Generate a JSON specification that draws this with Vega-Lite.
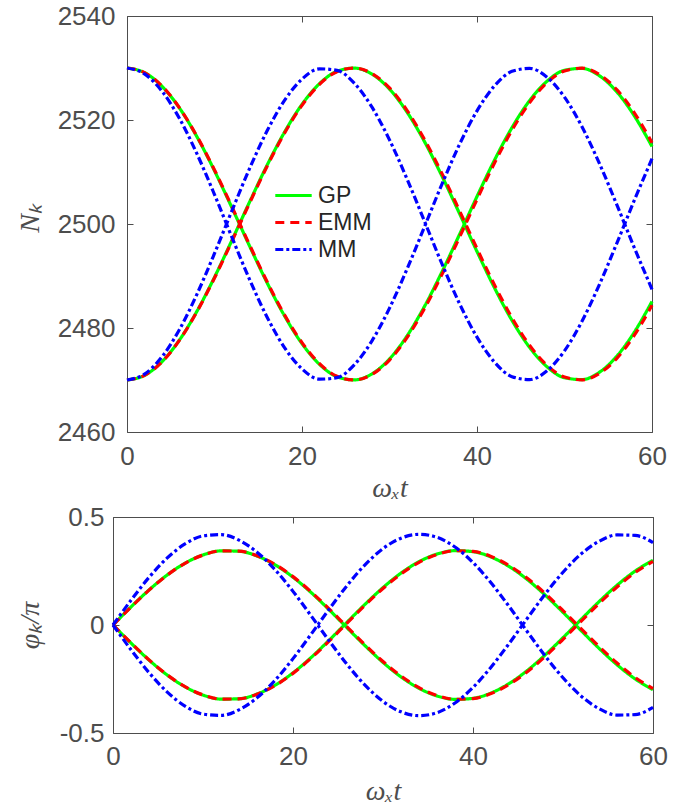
{
  "$schema": "https://vega.github.io/schema/vega-lite/v6.json",
  "background": "white",
  "padding": {"left": 16, "top": 3, "right": 5, "bottom": 0},
  "spacing": 2,
  "data": {"values": [
    {"t":0,"m":"GP","N1":2530,"N2":2470,"p1":0,"p2":0},
    {"t":2,"m":"GP","N1":2529.11,"N2":2470.89,"p1":0.0835,"p2":-0.0835},
    {"t":4,"m":"GP","N1":2526.48,"N2":2473.52,"p1":0.1621,"p2":-0.1621},
    {"t":6,"m":"GP","N1":2522.29,"N2":2477.71,"p1":0.2309,"p2":-0.2309},
    {"t":8,"m":"GP","N1":2516.76,"N2":2483.24,"p1":0.2861,"p2":-0.2861},
    {"t":10,"m":"GP","N1":2510.24,"N2":2489.76,"p1":0.3243,"p2":-0.3243},
    {"t":12,"m":"GP","N1":2503.11,"N2":2496.89,"p1":0.3431,"p2":-0.3431},
    {"t":14,"m":"GP","N1":2495.80,"N2":2504.20,"p1":0.3416,"p2":-0.3416},
    {"t":16,"m":"GP","N1":2488.73,"N2":2511.27,"p1":0.3197,"p2":-0.3197},
    {"t":18,"m":"GP","N1":2482.34,"N2":2517.66,"p1":0.2789,"p2":-0.2789},
    {"t":20,"m":"GP","N1":2476.99,"N2":2523.01,"p1":0.2214,"p2":-0.2214},
    {"t":22,"m":"GP","N1":2473.01,"N2":2526.99,"p1":0.1508,"p2":-0.1508},
    {"t":24,"m":"GP","N1":2470.64,"N2":2529.36,"p1":0.0712,"p2":-0.0712},
    {"t":26,"m":"GP","N1":2470.02,"N2":2529.98,"p1":-0.0127,"p2":0.0127},
    {"t":28,"m":"GP","N1":2471.18,"N2":2528.82,"p1":-0.0957,"p2":0.0957},
    {"t":30,"m":"GP","N1":2474.05,"N2":2525.95,"p1":-0.1731,"p2":0.1731},
    {"t":32,"m":"GP","N1":2478.47,"N2":2521.53,"p1":-0.2402,"p2":0.2402},
    {"t":34,"m":"GP","N1":2484.16,"N2":2515.84,"p1":-0.2930,"p2":0.2930},
    {"t":36,"m":"GP","N1":2490.80,"N2":2509.20,"p1":-0.3284,"p2":0.3284},
    {"t":38,"m":"GP","N1":2497.98,"N2":2502.02,"p1":-0.3442,"p2":0.3442},
    {"t":40,"m":"GP","N1":2505.29,"N2":2494.71,"p1":-0.3396,"p2":0.3396},
    {"t":42,"m":"GP","N1":2512.28,"N2":2487.72,"p1":-0.3148,"p2":0.3148},
    {"t":44,"m":"GP","N1":2518.54,"N2":2481.46,"p1":-0.2712,"p2":0.2712},
    {"t":46,"m":"GP","N1":2523.70,"N2":2476.30,"p1":-0.2116,"p2":0.2116},
    {"t":48,"m":"GP","N1":2527.45,"N2":2472.55,"p1":-0.1393,"p2":0.1393},
    {"t":50,"m":"GP","N1":2529.56,"N2":2470.44,"p1":-0.0588,"p2":0.0588},
    {"t":52,"m":"GP","N1":2529.92,"N2":2470.08,"p1":0.0253,"p2":-0.0253},
    {"t":54,"m":"GP","N1":2528.50,"N2":2471.50,"p1":0.1078,"p2":-0.1078},
    {"t":56,"m":"GP","N1":2525.38,"N2":2474.62,"p1":0.1839,"p2":-0.1839},
    {"t":58,"m":"GP","N1":2520.75,"N2":2479.25,"p1":0.2491,"p2":-0.2491},
    {"t":60,"m":"GP","N1":2514.90,"N2":2485.10,"p1":0.2995,"p2":-0.2995},
    {"t":0,"m":"EMM","N1":2530,"N2":2470,"p1":0,"p2":0},
    {"t":2,"m":"EMM","N1":2529.12,"N2":2470.88,"p1":0.0832,"p2":-0.0832},
    {"t":4,"m":"EMM","N1":2526.51,"N2":2473.49,"p1":0.1615,"p2":-0.1615},
    {"t":6,"m":"EMM","N1":2522.34,"N2":2477.66,"p1":0.2302,"p2":-0.2302},
    {"t":8,"m":"EMM","N1":2516.85,"N2":2483.15,"p1":0.2854,"p2":-0.2854},
    {"t":10,"m":"EMM","N1":2510.38,"N2":2489.62,"p1":0.3237,"p2":-0.3237},
    {"t":12,"m":"EMM","N1":2503.28,"N2":2496.72,"p1":0.3429,"p2":-0.3429},
    {"t":14,"m":"EMM","N1":2496.00,"N2":2504.00,"p1":0.3419,"p2":-0.3419},
    {"t":16,"m":"EMM","N1":2488.94,"N2":2511.06,"p1":0.3207,"p2":-0.3207},
    {"t":18,"m":"EMM","N1":2482.54,"N2":2517.46,"p1":0.2806,"p2":-0.2806},
    {"t":20,"m":"EMM","N1":2477.18,"N2":2522.82,"p1":0.2239,"p2":-0.2239},
    {"t":22,"m":"EMM","N1":2473.15,"N2":2526.85,"p1":0.1540,"p2":-0.1540},
    {"t":24,"m":"EMM","N1":2470.71,"N2":2529.29,"p1":0.0750,"p2":-0.0750},
    {"t":26,"m":"EMM","N1":2470.01,"N2":2529.99,"p1":-0.0084,"p2":0.0084},
    {"t":28,"m":"EMM","N1":2471.07,"N2":2528.93,"p1":-0.0914,"p2":0.0914},
    {"t":30,"m":"EMM","N1":2473.84,"N2":2526.16,"p1":-0.1689,"p2":0.1689},
    {"t":32,"m":"EMM","N1":2478.15,"N2":2521.85,"p1":-0.2364,"p2":0.2364},
    {"t":34,"m":"EMM","N1":2483.75,"N2":2516.25,"p1":-0.2901,"p2":0.2901},
    {"t":36,"m":"EMM","N1":2490.31,"N2":2509.69,"p1":-0.3266,"p2":0.3266},
    {"t":38,"m":"EMM","N1":2497.44,"N2":2502.56,"p1":-0.3438,"p2":0.3438},
    {"t":40,"m":"EMM","N1":2504.73,"N2":2495.27,"p1":-0.3407,"p2":0.3407},
    {"t":42,"m":"EMM","N1":2511.74,"N2":2488.26,"p1":-0.3176,"p2":0.3176},
    {"t":44,"m":"EMM","N1":2518.05,"N2":2481.95,"p1":-0.2757,"p2":0.2757},
    {"t":46,"m":"EMM","N1":2523.30,"N2":2476.70,"p1":-0.2175,"p2":0.2175},
    {"t":48,"m":"EMM","N1":2527.17,"N2":2472.83,"p1":-0.1465,"p2":0.1465},
    {"t":50,"m":"EMM","N1":2529.43,"N2":2470.57,"p1":-0.0668,"p2":0.0668},
    {"t":52,"m":"EMM","N1":2529.96,"N2":2470.04,"p1":0.0168,"p2":-0.0168},
    {"t":54,"m":"EMM","N1":2528.73,"N2":2471.27,"p1":0.0994,"p2":-0.0994},
    {"t":56,"m":"EMM","N1":2525.80,"N2":2474.20,"p1":0.1762,"p2":-0.1762},
    {"t":58,"m":"EMM","N1":2521.34,"N2":2478.66,"p1":0.2426,"p2":-0.2426},
    {"t":60,"m":"EMM","N1":2515.63,"N2":2484.37,"p1":0.2946,"p2":-0.2946},
    {"t":0,"m":"MM","N1":2530,"N2":2470,"p1":0,"p2":0},
    {"t":2,"m":"MM","N1":2528.86,"N2":2471.14,"p1":0.1145,"p2":-0.1145},
    {"t":4,"m":"MM","N1":2525.54,"N2":2474.46,"p1":0.2204,"p2":-0.2204},
    {"t":6,"m":"MM","N1":2520.28,"N2":2479.72,"p1":0.3095,"p2":-0.3095},
    {"t":8,"m":"MM","N1":2513.48,"N2":2486.52,"p1":0.3752,"p2":-0.3752},
    {"t":10,"m":"MM","N1":2505.66,"N2":2494.34,"p1":0.4125,"p2":-0.4125},
    {"t":12,"m":"MM","N1":2497.41,"N2":2502.59,"p1":0.4184,"p2":-0.4184},
    {"t":14,"m":"MM","N1":2489.36,"N2":2510.64,"p1":0.3927,"p2":-0.3927},
    {"t":16,"m":"MM","N1":2482.12,"N2":2517.88,"p1":0.3372,"p2":-0.3372},
    {"t":18,"m":"MM","N1":2476.23,"N2":2523.77,"p1":0.2562,"p2":-0.2562},
    {"t":20,"m":"MM","N1":2472.14,"N2":2527.86,"p1":0.1557,"p2":-0.1557},
    {"t":22,"m":"MM","N1":2470.16,"N2":2529.84,"p1":0.0434,"p2":-0.0434},
    {"t":24,"m":"MM","N1":2470.45,"N2":2529.55,"p1":-0.0721,"p2":0.0721},
    {"t":26,"m":"MM","N1":2472.97,"N2":2527.03,"p1":-0.1822,"p2":0.1822},
    {"t":28,"m":"MM","N1":2477.54,"N2":2522.46,"p1":-0.2785,"p2":0.2785},
    {"t":30,"m":"MM","N1":2483.82,"N2":2516.18,"p1":-0.3537,"p2":0.3537},
    {"t":32,"m":"MM","N1":2491.32,"N2":2508.68,"p1":-0.4020,"p2":0.4020},
    {"t":34,"m":"MM","N1":2499.48,"N2":2500.52,"p1":-0.4199,"p2":0.4199},
    {"t":36,"m":"MM","N1":2507.68,"N2":2492.32,"p1":-0.4060,"p2":0.4060},
    {"t":38,"m":"MM","N1":2515.30,"N2":2484.70,"p1":-0.3613,"p2":0.3613},
    {"t":40,"m":"MM","N1":2521.76,"N2":2478.24,"p1":-0.2892,"p2":0.2892},
    {"t":42,"m":"MM","N1":2526.56,"N2":2473.44,"p1":-0.1952,"p2":0.1952},
    {"t":44,"m":"MM","N1":2529.36,"N2":2470.64,"p1":-0.0864,"p2":0.0864},
    {"t":46,"m":"MM","N1":2529.93,"N2":2470.07,"p1":0.0290,"p2":-0.0290},
    {"t":48,"m":"MM","N1":2528.23,"N2":2471.77,"p1":0.1421,"p2":-0.1421},
    {"t":50,"m":"MM","N1":2524.39,"N2":2475.61,"p1":0.2445,"p2":-0.2445},
    {"t":52,"m":"MM","N1":2518.70,"N2":2481.30,"p1":0.3284,"p2":-0.3284},
    {"t":54,"m":"MM","N1":2511.60,"N2":2488.40,"p1":0.3873,"p2":-0.3873},
    {"t":56,"m":"MM","N1":2503.62,"N2":2496.38,"p1":0.4169,"p2":-0.4169},
    {"t":58,"m":"MM","N1":2495.36,"N2":2504.64,"p1":0.4149,"p2":-0.4149},
    {"t":60,"m":"MM","N1":2487.45,"N2":2512.55,"p1":0.3815,"p2":-0.3815}
  ]},
  "config": {
    "view": {"stroke": null},
    "axis": {
      "grid": false,
      "labelFont": "Liberation Sans",
      "labelFontSize": 26,
      "labelColor": "#4d4d4d",
      "titleFont": "Liberation Serif",
      "titleFontStyle": "italic",
      "titleFontWeight": "normal",
      "titleFontSize": 28,
      "titleColor": "#4d4d4d",
      "tickColor": "#4d4d4d",
      "domainColor": "#4d4d4d",
      "tickSize": -6,
      "labelFlush": false,
      "labelOverlap": false
    }
  },
  "resolve": {"scale": {"color": "independent", "strokeDash": "independent"}},
  "vconcat": [
    {
      "width": 540,
      "height": 416,
      "transform": [{"fold": ["N1", "N2"], "as": ["br", "N"]}],
      "layer": [
        {
          "mark": {"type": "line", "strokeWidth": 3.2, "interpolate": "monotone"},
          "encoding": {
            "x": {"field": "t", "type": "quantitative", "scale": {"domain": [0, 60], "nice": false, "range": [14, 539]},
                  "axis": {"values": [0, 20, 40, 60], "format": "d", "title": "ωₓt", "labelPadding": 17, "titlePadding": 5}},
            "y": {"field": "N", "type": "quantitative", "scale": {"domain": [2460, 2540], "nice": false, "zero": false},
                  "axis": {"values": [2460, 2480, 2500, 2520, 2540], "format": "d", "title": "Nₖ", "offset": -14, "labelPadding": 18, "titleX": -97, "titleY": 202, "titleBaseline": "middle"}},
            "color": {"field": "m", "type": "nominal", "scale": {"domain": ["GP", "EMM", "MM"], "range": ["#00ff00", "#ff0000", "#0000ff"]},
                      "legend": {"title": null, "orient": "none", "legendX": 166, "legendY": 165, "symbolType": "M-1.4,0L1.4,0", "symbolSize": 676, "symbolStrokeWidth": 3, "labelFont": "Liberation Sans", "labelFontSize": 23, "labelColor": "#262626", "labelOffset": 10, "rowPadding": 0, "padding": 0}},
            "strokeDash": {"field": "m", "type": "nominal", "scale": {"domain": ["GP", "EMM", "MM"], "range": [[1, 0], [9, 6], [8, 3, 3, 3]]},
                      "legend": {"title": null, "orient": "none", "legendX": 166, "legendY": 165, "symbolType": "M-1.4,0L1.4,0", "symbolSize": 676, "symbolStrokeWidth": 3, "labelFont": "Liberation Sans", "labelFontSize": 23, "labelColor": "#262626", "labelOffset": 10, "rowPadding": 0, "padding": 0}},
            "detail": {"field": "br", "type": "nominal"}
          }
        },
        {
          "mark": {"type": "point", "opacity": 0},
          "encoding": {
            "x": {"field": "t", "type": "quantitative", "axis": {"orient": "top", "values": [0, 20, 40, 60], "labels": false, "title": null}},
            "y": {"field": "N", "type": "quantitative", "axis": {"orient": "right", "offset": -1, "values": [2460, 2480, 2500, 2520, 2540], "labels": false, "title": null}}
          }
        }
      ],
      "resolve": {"axis": {"x": "independent", "y": "independent"}}
    },
    {
      "width": 540,
      "height": 216,
      "transform": [{"fold": ["p1", "p2"], "as": ["br", "p"]}],
      "layer": [
        {
          "mark": {"type": "line", "strokeWidth": 3.2, "interpolate": "monotone"},
          "encoding": {
            "x": {"field": "t", "type": "quantitative", "scale": {"domain": [0, 60], "nice": false},
                  "axis": {"values": [0, 20, 40, 60], "format": "d", "title": "ωₓt", "labelPadding": 16, "titlePadding": 8}},
            "y": {"field": "p", "type": "quantitative", "scale": {"domain": [-0.5, 0.5], "nice": false},
                  "axis": {"values": [-0.5, 0, 0.5], "format": ".1~f", "labelExpr": "replace(datum.label, '\u2212', '-')", "title": "φₖ/π", "labelPadding": 15, "titleX": -83, "titleBaseline": "middle"}},
            "color": {"field": "m", "type": "nominal", "scale": {"domain": ["GP", "EMM", "MM"], "range": ["#00ff00", "#ff0000", "#0000ff"]}, "legend": null},
            "strokeDash": {"field": "m", "type": "nominal", "scale": {"domain": ["GP", "EMM", "MM"], "range": [[1, 0], [9, 6], [8, 3, 3, 3]]}, "legend": null},
            "detail": {"field": "br", "type": "nominal"}
          }
        },
        {
          "mark": {"type": "point", "opacity": 0},
          "encoding": {
            "x": {"field": "t", "type": "quantitative", "axis": {"orient": "top", "values": [0, 20, 40, 60], "labels": false, "title": null}},
            "y": {"field": "p", "type": "quantitative", "axis": {"orient": "right", "values": [-0.5, 0, 0.5], "labels": false, "title": null}}
          }
        }
      ],
      "resolve": {"axis": {"x": "independent", "y": "independent"}}
    }
  ]
}
